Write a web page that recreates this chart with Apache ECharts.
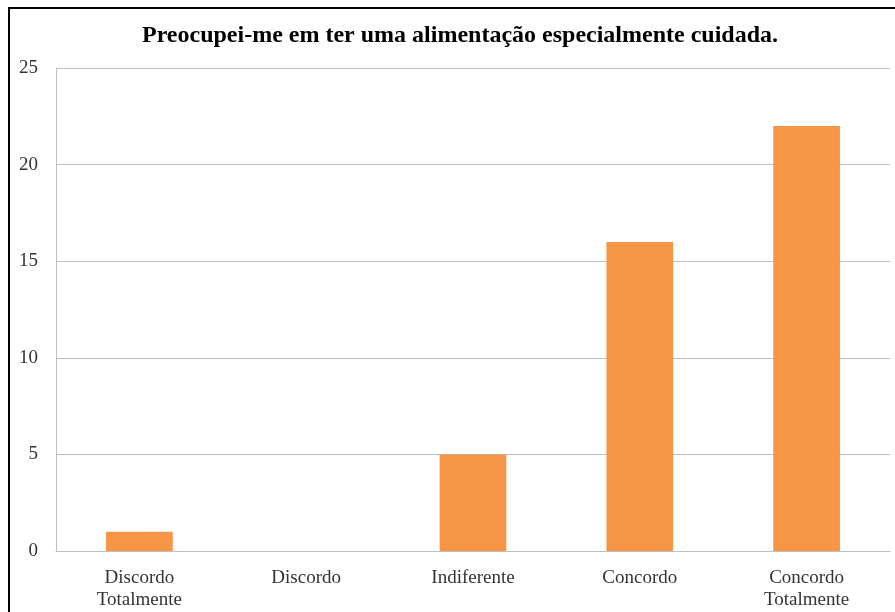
<!DOCTYPE html>
<html>
<head>
<meta charset="utf-8">
<script src="https://cdn.jsdelivr.net/npm/echarts@6/dist/echarts.min.js"></script>
<style>
  html, body { margin: 0; padding: 0; background: #fff; }
  #chart { width: 895px; height: 612px; }
</style>
</head>
<body>
<div id="chart"></div>
<script>
"use strict";

const categories = ['Discordo\nTotalmente', 'Discordo', 'Indiferente', 'Concordo', 'Concordo\nTotalmente'];
const values = [1, 0, 5, 16, 22];
const title_text = 'Preocupei-me em ter uma alimentação especialmente cuidada.';

const chartDom = document.getElementById('chart');
const myChart = echarts.init(chartDom, null, { renderer: 'canvas' });

const font = '"Liberation Serif", "Times New Roman", serif';

const option = {
    backgroundColor: '#fff',
    animation: false,
    title: {
        text: title_text,
        left: 455,
        top: 19,
        textAlign: 'center',
        textStyle: {
            fontFamily: font,
            fontSize: 24,
            fontWeight: 'bold',
            color: '#000'
        }
    },
    graphic: [
        {
            type: 'rect',
            shape: { x: 9, y: 8, width: 960, height: 700 },
            style: { fill: 'none', stroke: '#000', lineWidth: 2 },
            silent: true
        }
    ],
    grid: {
        left: 56,
        right: 5,
        top: 68,
        bottom: 61,
        containLabel: false
    },
    xAxis: {
        type: 'category',
        data: categories,
        axisLine: { show: true, lineStyle: { color: '#bfbfbf', width: 1 } },
        axisTick: { show: false },
        axisLabel: {
            fontFamily: font,
            fontSize: 19,
            color: '#333',
            lineHeight: 22,
            margin: 16,
            interval: 0
        }
    },
    yAxis: {
        type: 'value',
        min: 0,
        max: 25,
        interval: 5,
        axisLine: { show: true, lineStyle: { color: '#bfbfbf', width: 1 } },
        axisTick: { show: false },
        splitLine: { lineStyle: { color: '#bfbfbf', width: 1 } },
        axisLabel: {
            fontFamily: font,
            fontSize: 19,
            color: '#333',
            margin: 18
        }
    },
    series: [
        {
            type: 'bar',
            data: values,
            barWidth: '40%',
            itemStyle: { color: '#F79646' }
        }
    ]
};

myChart.setOption(option);
</script>
</body>
</html>
